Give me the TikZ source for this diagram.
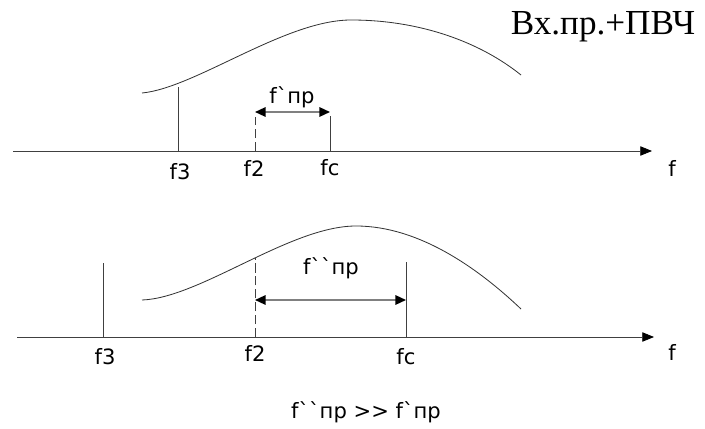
\documentclass[tikz,border=0pt]{standalone}
\usepackage{fontspec}
\setmainfont{Liberation Serif}
\newfontfamily\labfont{DejaVu Sans}
\usetikzlibrary{arrows.meta,positioning}
\begin{document}
\begin{tikzpicture}[x=0.03cm, y=-0.03cm,
        lbl/.style={font=\labfont\fontsize{18}{21}\selectfont, inner sep=1pt},
        ax/.style={-{Triangle[length=10pt,width=8pt,black]}, line width=0.7pt, black!75},
        vline/.style={line width=0.7pt, black!75},
        dim/.style={{Triangle[length=9pt,width=8pt,black]}-{Triangle[length=9pt,width=8pt,black]}, line width=1.5pt, black!50},
        crv/.style={line width=0.7pt, black!80}
    ]
    \useasboundingbox (0,0) rectangle (705,429);
    % top picture
    \coordinate (a1s) at (13,151);
    \coordinate (a1e) at (652,151);
    \draw[ax] (a1s) -- (a1e);
    \node[lbl] (f1) at (672,168) {f};
    \node (ttl) at (603,27) {\fontsize{30}{34}\selectfont Вх.пр.+ПВЧ};
    \draw[crv] (142,93) .. controls (195,88) and (285,20) .. (351,20)
                        .. controls (420,20) and (480,42) .. (521,75);
    \coordinate (t3) at (178,151);  \coordinate (t3u) at (178,87);
    \coordinate (t2) at (255,151);  \coordinate (t2u) at (255,117);
    \coordinate (tc) at (330,151);  \coordinate (tcu) at (330,116);
    \draw[vline] (t3) -- (t3u);
    \draw[vline, dash pattern=on 8pt off 3pt] (t2) -- (t2u);
    \draw[vline] (tc) -- (tcu);
    \node[lbl] (lt3) at (180,172) {f3};
    \node[lbl] (lt2) at (254,168) {f2};
    \node[lbl] (ltc) at (330,168) {fc};
    \coordinate (d1s) at (255,112);
    \coordinate (d1e) at (330,112);
    \draw[dim] (d1s) -- (d1e);
    \node[lbl] (pr1) at (292,97) {f`пр};
    % bottom picture
    \coordinate (a2s) at (17,337);
    \coordinate (a2e) at (654,337);
    \draw[ax] (a2s) -- (a2e);
    \node[lbl] (f2) at (672,352) {f};
    \draw[crv] (142,300) .. controls (200,298) and (290,226) .. (356,226)
                         .. controls (420,226) and (480,270) .. (521,309);
    \coordinate (b3) at (103,337);  \coordinate (b3u) at (103,263);
    \coordinate (b2) at (255,337);  \coordinate (b2u) at (255,258);
    \coordinate (bc) at (406,337);  \coordinate (bcu) at (406,262);
    \draw[vline] (b3) -- (b3u);
    \draw[vline, dash pattern=on 8pt off 3pt] (b2) -- (b2u);
    \draw[vline] (bc) -- (bcu);
    \node[lbl] (lb3) at (105,357) {f3};
    \node[lbl] (lb2) at (255,353) {f2};
    \node[lbl] (lbc) at (406,357) {fc};
    \coordinate (d2s) at (255,300);
    \coordinate (d2e) at (406,300);
    \draw[dim] (d2s) -- (d2e);
    \node[lbl] (pr2) at (331,268) {f``пр};
    \node[lbl] (cmp) at (366,412) {f``пр >> f`пр};
\end{tikzpicture}
\end{document}
